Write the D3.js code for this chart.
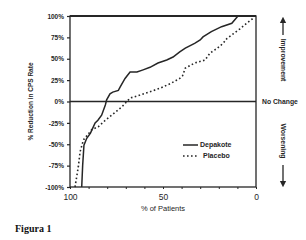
<!DOCTYPE html>
<html><head><meta charset="utf-8">
<script src="https://cdn.jsdelivr.net/npm/d3@7"></script>
<style>
body{margin:0;background:#fff;}
svg{display:block;font-family:"Liberation Sans",Arial,sans-serif;}
</style></head>
<body><svg id="c" width="306" height="240"></svg>
<script>
// % of patients (x) and % reduction in CPS rate (y)
const depakotePct = [93.7,93.2,92.5,91,89,86.5,85,83,81,80.3,78.5,77,74,73,70.4,67.7,64,60.7,57,52.7,48,44.6,41,38,33,30,28.5,24,18.5,13,9.7,0];
const depakoteVal = [-100,-75,-51,-43,-37,-25,-22,-16,-4,2,9,11,13,17,27,34.5,34.5,37,40,45,48.5,52,58,62.5,68,72,75.5,81.7,87.5,91.5,100,100];
const placeboPct = [97.3,95.5,94.6,92.8,88.3,84.8,81,77.6,72,67.7,62.4,57,51.6,46,41,39.5,38,33,27.4,24.7,21,17.7,15.7,12,8.6,5,1.4];
const placeboVal = [-100,-76,-59,-45,-33,-29.5,-22,-16,-6,4,7.5,11.5,15.5,21,27,30,39,45,48.5,56.7,62,68,73.5,79.5,85,91.5,97.5];
const yTicks = [100,75,50,25,0,-25,-50,-75,-100];
const xTicks = [100,90,80,70,60,50,40,30,20,10,0];
const xLabels = [100,50,0];
const seriesNames = ["Depakote","Placebo"];

const svg = d3.select("#c");
const L=70,R=256,T=16,B=187;
const x = d3.scaleLinear().domain([100,0]).range([L,R]);
const y = d3.scaleLinear().domain([-100,100]).range([B,T]);
const ink = "#262626";

// y axis ticks and labels
const ya = d3.axisLeft(y).tickValues(yTicks).tickSize(3).tickFormat(d=>d+"%");
const gy = svg.append("g").attr("transform",`translate(${L},0)`).call(ya);
gy.select(".domain").remove();
gy.selectAll("line").attr("stroke",ink).attr("stroke-width",1.2);
gy.selectAll("text").attr("font-size",6.5).attr("font-weight","bold").attr("fill",ink).attr("x",-6).attr("dy","0.33em");

// x axis ticks
const xa = d3.axisBottom(x).tickValues(xTicks).tickSize(2).tickFormat(d=>xLabels.includes(d)?d:"");
const gx = svg.append("g").attr("transform",`translate(0,${B})`).call(xa);
gx.select(".domain").remove();
gx.selectAll("line").attr("stroke",ink).attr("stroke-width",1);
gx.selectAll("text").attr("font-size",8.5).attr("fill",ink).attr("y",7);

// frame
svg.append("rect").attr("x",L).attr("y",T).attr("width",R-L).attr("height",B-T)
  .attr("fill","none").attr("stroke",ink).attr("stroke-width",1.3);
svg.append("line").attr("x1",L).attr("x2",R).attr("y1",T).attr("y2",T).attr("stroke",ink).attr("stroke-width",1.8);
// zero line
svg.append("line").attr("x1",L).attr("x2",R).attr("y1",y(0)).attr("y2",y(0)).attr("stroke",ink).attr("stroke-width",1.3);

const line = d3.line().x(d=>x(d[0])).y(d=>y(d[1]));
svg.append("path").datum(depakotePct.map((p,i)=>[p,depakoteVal[i]]))
  .attr("d",line).attr("fill","none").attr("stroke",ink).attr("stroke-width",1.5);
svg.append("path").datum(placeboPct.map((p,i)=>[p,placeboVal[i]]))
  .attr("d",line).attr("fill","none").attr("stroke",ink).attr("stroke-width",1.6).attr("stroke-dasharray","1.6,2.4");

// axis titles
svg.append("text").attr("x",x(50)).attr("y",211).attr("text-anchor","middle").attr("font-size",7.5).attr("fill",ink).text("% of Patients");
svg.append("text").attr("transform",`translate(33,${y(0)}) rotate(-90)`).attr("text-anchor","middle")
  .attr("font-size",6.5).attr("font-weight","bold").attr("fill",ink).text("% Reduction in CPS Rate");

// legend
const lg = svg.append("g");
[0,1].forEach(i=>{
  const yy = 145 + i*11;
  lg.append("line").attr("x1",183).attr("x2",198).attr("y1",yy).attr("y2",yy).attr("stroke",ink)
    .attr("stroke-width",1.5).attr("stroke-dasharray",i?"1.6,2.4":null);
  lg.append("text").attr("x",i?203:200).attr("y",yy).attr("dy","0.35em").attr("font-size",7).attr("font-weight","bold").attr("fill",ink).text(seriesNames[i]);
});

// right annotations
svg.append("text").attr("x",262).attr("y",y(0)).attr("dy","0.35em").attr("font-size",6.8).attr("font-weight","bold").attr("fill",ink).text("No Change");
svg.append("text").attr("transform","translate(281,60) rotate(90)").attr("text-anchor","middle").attr("font-size",6.8).attr("font-weight","bold").attr("fill",ink).text("Improvement");
svg.append("text").attr("transform","translate(281,141) rotate(90)").attr("text-anchor","middle").attr("font-size",6.8).attr("font-weight","bold").attr("fill",ink).text("Worsening");
const defs = svg.append("defs");
defs.append("marker").attr("id","ah").attr("viewBox","0 0 10 10").attr("refX",5).attr("refY",5)
  .attr("markerWidth",5).attr("markerHeight",6).attr("orient","auto")
  .append("path").attr("d","M0,0 L10,5 L0,10 Z").attr("fill",ink);
svg.append("line").attr("x1",283).attr("x2",283).attr("y1",35).attr("y2",20).attr("stroke",ink).attr("stroke-width",1.3).attr("marker-end","url(#ah)");
svg.append("line").attr("x1",283).attr("x2",283).attr("y1",165).attr("y2",184).attr("stroke",ink).attr("stroke-width",1.3).attr("marker-end","url(#ah)");

// caption
svg.append("text").attr("x",15).attr("y",232).attr("font-family","'Liberation Serif','Times New Roman',serif")
  .attr("font-weight","bold").attr("font-size",10).attr("fill","#111").text("Figura 1");
</script></body></html>
